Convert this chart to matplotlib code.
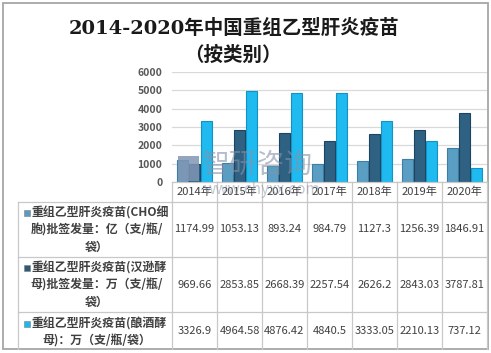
import matplotlib
matplotlib.use('Agg')
import matplotlib.pyplot as plt
from matplotlib.patches import Rectangle
from matplotlib.lines import Line2D
import matplotlib.transforms as mtransforms
import numpy as np

years = ['2014年', '2015年', '2016年', '2017年', '2018年', '2019年', '2020年']
cho = [1174.99, 1053.13, 893.24, 984.79, 1127.3, 1256.39, 1846.91]
hansenula = [969.66, 2853.85, 2668.39, 2257.54, 2626.2, 2843.03, 3787.81]
sacch = [3326.9, 4964.58, 4876.42, 4840.5, 3333.05, 2210.13, 737.12]
series = [cho, hansenula, sacch]
row_label_lines = [
    ['重组乙型肝炎疫苗(CHO细', '胞)批签发量：亿（支/瓶/', '袋）'],
    ['重组乙型肝炎疫苗(汉逊酵', '母)批签发量：万（支/瓶/', '袋）'],
    ['重组乙型肝炎疫苗(酿酒酵', '母)：万（支/瓶/袋）'],
]
yticks = [0, 1000, 2000, 3000, 4000, 5000, 6000]
title_line1 = '2014-2020年中国重组乙型肝炎疫苗'
title_line2 = '（按类别）'

fills = ['#5b9ec4', '#2f6183', '#1fbaf0']
edges = ['#3f7ea3', '#1d4460', '#1592c4']
keys = ['#5b9bc0', '#2e5a78', '#1fb5ee']

W, H = 491, 353
fig = plt.figure(figsize=(W / 100, H / 100), dpi=100)
fig.patch.set_facecolor('white')
CJK = ['Noto Sans CJK SC', 'DejaVu Sans']


def fx(x):
    return x / W


def fy(y):
    return 1 - y / H


x_left, x_right, y_top, y_bot = 172, 487, 72, 182
ax = fig.add_axes([fx(x_left), fy(y_bot), fx(x_right) - fx(x_left), fy(y_top) - fy(y_bot)])
n = len(years)
x = np.arange(n)
bw, off = 0.235, 0.268
for i, s in enumerate(series):
    ax.bar(x + (i - 1) * off, s, width=bw, color=fills[i], edgecolor=edges[i],
           linewidth=0.8, zorder=3)
ax.set_xlim(-0.5, n - 0.5)
ax.set_ylim(0, 6000)
ax.set_yticks(yticks)
ax.set_yticklabels([str(t) for t in yticks], fontsize=7.5, fontweight='bold',
                   color='#595959', family=CJK)
ax.tick_params(axis='y', length=0, pad=7)
ax.set_xticks([])
ax.grid(axis='y', color='#d9d9d9', linewidth=0.9, zorder=0)
for sp in ax.spines.values():
    sp.set_visible(False)
ax.patch.set_alpha(0)

# Title
fig.text(fx(234), fy(28), title_line1, ha='center', va='center', fontsize=14,
         fontweight='bold', family=['DejaVu Serif', 'Noto Sans CJK SC'], color='#1a1a1a')
fig.text(fx(233), fy(55), title_line2, ha='center', va='center', fontsize=14,
         fontweight='bold', family=['Noto Sans CJK SC', 'DejaVu Serif'], color='#1a1a1a')

# Table
lc = '#c8c8c8'
col_edges = [x_left + 45 * k for k in range(n + 1)]
rows_y = [182, 202, 257, 312, 349]
tl = fig.transFigure
for xe in col_edges:
    fig.add_artist(Line2D([fx(xe), fx(xe)], [fy(182), fy(349)], color=lc, lw=0.9, transform=tl))
fig.add_artist(Line2D([fx(18), fx(18)], [fy(202), fy(349)], color=lc, lw=0.9, transform=tl))
fig.add_artist(Line2D([fx(x_left), fx(x_right)], [fy(182), fy(182)], color=lc, lw=0.9, transform=tl))
for yy in rows_y[1:4]:
    fig.add_artist(Line2D([fx(18), fx(x_right)], [fy(yy), fy(yy)], color=lc, lw=0.9, transform=tl))

blend = mtransforms.blended_transform_factory(ax.transData, fig.transFigure)
for j, yl in enumerate(years):
    fig.text(j, fy(192), yl, transform=blend, ha='center', va='center', fontsize=8,
             color='#404040', family=CJK)

num_y = [229.5, 284.5, 331]
line_ys = [[213, 230, 247], [268, 285, 302], [324, 341]]
for r, s in enumerate(series):
    for j, v in enumerate(s):
        fig.text(j, fy(num_y[r]), str(v), transform=blend, ha='center', va='center',
                 fontsize=8, color='#404040', family=CJK)
    lines = row_label_lines[r]
    for k, ln in enumerate(lines):
        if k == 0:
            fig.text(fx(32), fy(line_ys[r][k]), ln, ha='left', va='center', fontsize=8.6,
                     fontweight='bold', color='#404040', family=CJK)
        else:
            fig.text(fx(97), fy(line_ys[r][k]), ln, ha='center', va='center', fontsize=8.6,
                     fontweight='bold', color='#404040', family=CJK)
    fig.add_artist(Rectangle((fx(24), fy(line_ys[r][0] + 3)), fx(6), 6 / H,
                             facecolor=keys[r], edgecolor='#7f7f7f', lw=0.4, transform=tl))

# Watermark
fig.add_artist(Rectangle((fx(178), fy(181)), fx(21), 25 / H, facecolor='#8196b4',
                         edgecolor='none', alpha=0.85, transform=tl))
fig.text(fx(257), fy(165), '智研咨询', ha='center', va='center', fontsize=20,
         color='#8492a8', alpha=0.6, family=CJK)
fig.text(fx(262), fy(190), 'www.chyxx.com', ha='center', va='center', fontsize=11,
         color='#8a94a6', alpha=0.5, family=CJK)

# Outer frame
fig.add_artist(Rectangle((fx(3), fy(349)), fx(485), 346 / H, facecolor='none',
                         edgecolor='#a6a6a6', lw=1.3, transform=tl))

fig.savefig('out.png', dpi=100, facecolor='white')
